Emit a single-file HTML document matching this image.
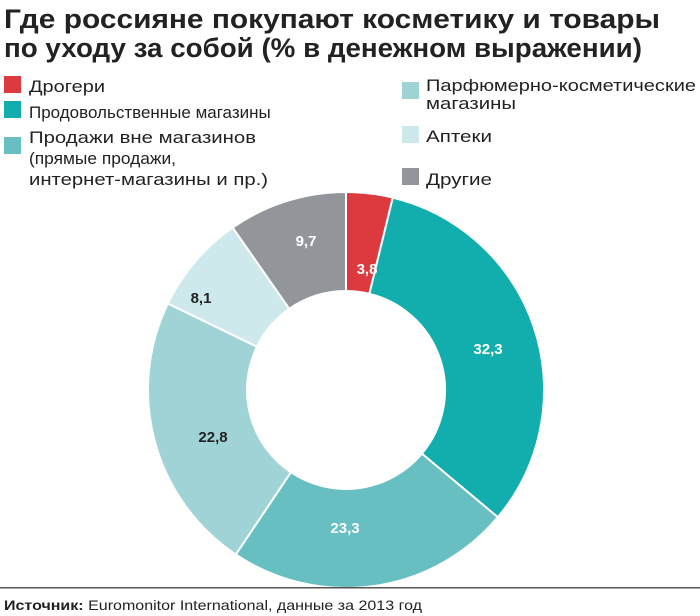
<!DOCTYPE html>
<html><head><meta charset="utf-8"><style>body{margin:0;background:#fff}svg{display:block}</style></head><body>
<svg width="700" height="616" viewBox="0 0 700 616" xmlns="http://www.w3.org/2000/svg" font-family="'Liberation Sans Narrow','Liberation Sans',sans-serif">
<text x="4" y="28" font-size="27" font-weight="bold" fill="#222" textLength="656" lengthAdjust="spacingAndGlyphs">Где россияне покупают косметику и товары</text>
<text x="4" y="57" font-size="27" font-weight="bold" fill="#222" textLength="638" lengthAdjust="spacingAndGlyphs">по уходу за собой (% в денежном выражении)</text>
<g font-size="17" fill="#222">
<rect x="4" y="76" width="17" height="17" fill="#dc3a3f"/>
<text x="29" y="92" textLength="76" lengthAdjust="spacingAndGlyphs">Дрогери</text>
<rect x="4" y="101" width="17" height="17" fill="#12adad"/>
<text x="29" y="118">Продовольственные магазины</text>
<rect x="4" y="137" width="17" height="17" fill="#67bfc2"/>
<text x="29" y="143" textLength="227" lengthAdjust="spacingAndGlyphs">Продажи вне магазинов</text>
<text x="29" y="164" textLength="147" lengthAdjust="spacingAndGlyphs">(прямые продажи,</text>
<text x="29" y="185" textLength="239" lengthAdjust="spacingAndGlyphs">интернет-магазины и пр.)</text>
<rect x="402" y="82" width="17" height="17" fill="#9fd3d5"/>
<text x="426" y="91" textLength="270" lengthAdjust="spacingAndGlyphs">Парфюмерно-косметические</text>
<text x="426" y="109" textLength="90" lengthAdjust="spacingAndGlyphs">магазины</text>
<rect x="402" y="126" width="17" height="17" fill="#cde9eb"/>
<text x="426" y="142" textLength="66" lengthAdjust="spacingAndGlyphs">Аптеки</text>
<rect x="402" y="168" width="17" height="17" fill="#929599"/>
<text x="426" y="185" textLength="66" lengthAdjust="spacingAndGlyphs">Другие</text>
</g>
<g stroke="#fff" stroke-width="2">
<path d="M346,192 A198,198 0 0 1 392.8,197.6 L369.4,293.8 A99,99 0 0 0 346,291 Z" fill="#dc3a3f"/>
<path d="M392.8,197.6 A198,198 0 0 1 497.8,517.2 L421.9,453.6 A99,99 0 0 0 369.4,293.8 Z" fill="#12adad"/>
<path d="M497.8,517.2 A198,198 0 0 1 235.8,554.5 L290.9,472.2 A99,99 0 0 0 421.9,453.6 Z" fill="#67bfc2"/>
<path d="M235.8,554.5 A198,198 0 0 1 167.9,303.5 L257,346.7 A99,99 0 0 0 290.9,472.2 Z" fill="#9fd3d5"/>
<path d="M167.9,303.5 A198,198 0 0 1 232.7,227.6 L289.3,308.8 A99,99 0 0 0 257,346.7 Z" fill="#cde9eb"/>
<path d="M232.7,227.6 A198,198 0 0 1 346,192 L346,291 A99,99 0 0 0 289.3,308.8 Z" fill="#929599"/>
</g>
<g font-size="15" font-weight="bold" text-anchor="middle">
<text x="367" y="274" fill="#fff">3,8</text>
<text x="488" y="354" fill="#fff">32,3</text>
<text x="345" y="533" fill="#fff">23,3</text>
<text x="213" y="442" fill="#222">22,8</text>
<text x="201" y="303" fill="#222">8,1</text>
<text x="306" y="246" fill="#fff">9,7</text>
</g>
<rect x="0" y="587" width="700" height="1.5" fill="#555"/>
<text x="4" y="610" font-size="14" fill="#222" textLength="418" lengthAdjust="spacingAndGlyphs"><tspan font-weight="bold">Источник:</tspan> Euromonitor International, данные за 2013 год</text>
</svg>
</body></html>
